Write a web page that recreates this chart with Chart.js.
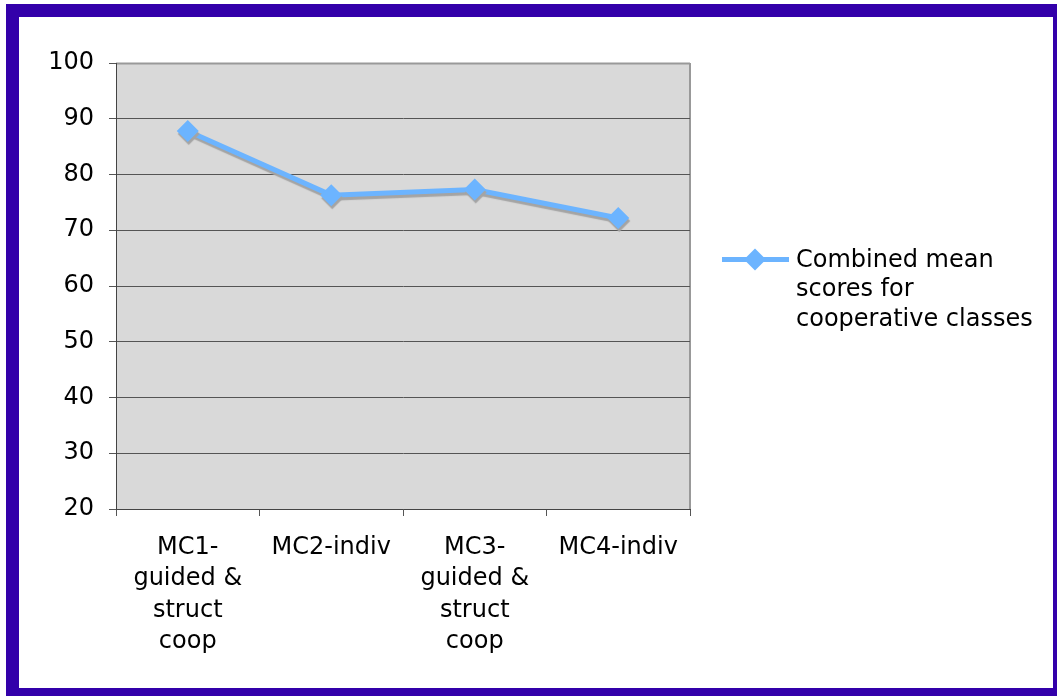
<!DOCTYPE html>
<html>
<head>
<meta charset="utf-8">
<title>Combined mean scores for cooperative classes</title>
<script src="https://cdn.jsdelivr.net/npm/chart.js@4/dist/chart.umd.min.js"></script>
<style>
  html, body { margin: 0; padding: 0; background: #ffffff; }
  #frame {
    position: absolute; left: 6px; top: 4px;
    width: 1034px; height: 671px;
    border: 13px solid #3300aa;
    background: #ffffff;
  }
  #wrap { position: absolute; left: 0; top: 0; width: 1057px; height: 696px; }
</style>
</head>
<body>
<div id="frame"></div>
<div id="wrap"><canvas id="c"></canvas></div>
<script>
// Categories (multi-line axis labels) and the plotted series
const categories = [
  ['MC1-', 'guided &', 'struct', 'coop'],
  ['MC2-indiv'],
  ['MC3-', 'guided &', 'struct', 'coop'],
  ['MC4-indiv']
];
const seriesLabel = 'Combined mean scores for cooperative classes';
const meanScores = [87.8, 76.3, 77.3, 72.2];
const yTicks = [20, 30, 40, 50, 60, 70, 80, 90, 100];

const FONT = '"DejaVu Sans", Verdana, sans-serif';
const FONT_SIZE = 24;
const LINE_BLUE = '#6cb4ff';
const GRID_DARK = '#555555';

// Grey plot background with a light frame on the top and right
const plotBackground = {
  id: 'plotBackground',
  beforeDraw(chart) {
    const { ctx, chartArea: a } = chart;
    ctx.save();
    ctx.fillStyle = '#d9d9d9';
    ctx.fillRect(a.left, a.top, a.right - a.left, a.bottom - a.top);
    ctx.strokeStyle = '#999999';
    ctx.lineWidth = 2;
    ctx.beginPath();
    ctx.moveTo(a.left, a.top + 0.5);
    ctx.lineTo(a.right, a.top + 0.5);
    ctx.moveTo(a.right, a.top);
    ctx.lineTo(a.right, a.bottom);
    ctx.stroke();
    ctx.restore();
  }
};

// Drop shadow under the series line and its markers
const dropShadow = {
  id: 'dropShadow',
  beforeDatasetDraw(chart) {
    const ctx = chart.ctx;
    ctx.save();
    ctx.shadowColor = '#a4a4a4';
    ctx.shadowOffsetX = 1;
    ctx.shadowOffsetY = 3;
    ctx.shadowBlur = 1;
  },
  afterDatasetDraw(chart) {
    chart.ctx.restore();
  }
};

// Legend on the right: line sample with a diamond, label wrapped over several lines
const sideLegend = {
  id: 'sideLegend',
  afterDraw(chart) {
    const { ctx, chartArea: a } = chart;
    const ds = chart.data.datasets[0];
    ctx.save();
    ctx.font = FONT_SIZE + 'px ' + FONT;
    const maxW = 250;
    const words = ds.label.split(' ');
    const lines = [];
    let cur = '';
    words.forEach(w => {
      const t = cur ? cur + ' ' + w : w;
      if (cur && ctx.measureText(t).width > maxW) { lines.push(cur); cur = w; }
      else cur = t;
    });
    if (cur) lines.push(cur);

    const lineH = 29.5;
    const cy = (a.top + a.bottom) / 2 + 4;
    const y0 = cy - (lines.length - 1) / 2 * lineH;
    const x0 = a.right + 32;

    // line sample
    ctx.strokeStyle = ds.borderColor;
    ctx.lineWidth = 5;
    ctx.beginPath();
    ctx.moveTo(x0, y0 - 1);
    ctx.lineTo(x0 + 67, y0 - 1);
    ctx.stroke();
    // diamond marker
    const mx = x0 + 33, my = y0 - 1, r = 11;
    ctx.fillStyle = ds.pointBackgroundColor;
    ctx.beginPath();
    ctx.moveTo(mx, my - r);
    ctx.lineTo(mx + r, my);
    ctx.lineTo(mx, my + r);
    ctx.lineTo(mx - r, my);
    ctx.closePath();
    ctx.fill();

    ctx.fillStyle = '#000000';
    ctx.textAlign = 'left';
    ctx.textBaseline = 'middle';
    lines.forEach((ln, i) => ctx.fillText(ln, x0 + 74, y0 + i * lineH));
    ctx.restore();
  }
};

new Chart(document.getElementById('c'), {
  type: 'line',
  data: {
    labels: categories,
    datasets: [{
      label: seriesLabel,
      data: meanScores,
      borderColor: LINE_BLUE,
      backgroundColor: LINE_BLUE,
      pointBackgroundColor: LINE_BLUE,
      pointBorderColor: LINE_BLUE,
      borderWidth: 5,
      pointStyle: 'rectRot',
      pointRadius: 11,
      pointBorderWidth: 0,
      pointHoverRadius: 11,
      tension: 0,
      fill: false
    }]
  },
  options: {
    responsive: true,
    maintainAspectRatio: false,
    devicePixelRatio: 1,
    animation: false,
    events: [],
    layout: { padding: { left: 0, top: 63, right: 367, bottom: 0 } },
    plugins: {
      legend: { display: false },
      tooltip: { enabled: false },
      title: { display: false }
    },
    scales: {
      x: {
        offset: true,
        grid: {
          offset: true,
          drawOnChartArea: false,
          drawTicks: true,
          tickLength: 7,
          tickColor: GRID_DARK,
          color: GRID_DARK
        },
        border: { display: true, color: '#444444', width: 1 },
        ticks: {
          color: '#000000',
          font: { family: FONT, size: FONT_SIZE, lineHeight: 1.305 },
          padding: 16,
          maxRotation: 0,
          minRotation: 0,
          autoSkip: false
        },
        afterFit(scale) { scale.height = 187; }
      },
      y: {
        min: 20,
        max: 100,
        afterBuildTicks(scale) { scale.ticks = yTicks.map(v => ({ value: v })); },
        grid: {
          color: ctx => (ctx.tick && ctx.tick.value === 100) ? '#999999' : GRID_DARK,
          tickColor: GRID_DARK,
          tickLength: 7,
          drawTicks: true
        },
        border: { display: true, color: '#444444', width: 1 },
        ticks: {
          color: '#000000',
          font: { family: FONT, size: FONT_SIZE },
          padding: 15
        },
        afterFit(scale) { scale.width = 116; }
      }
    }
  },
  plugins: [plotBackground, dropShadow, sideLegend]
});
</script>
</body>
</html>
